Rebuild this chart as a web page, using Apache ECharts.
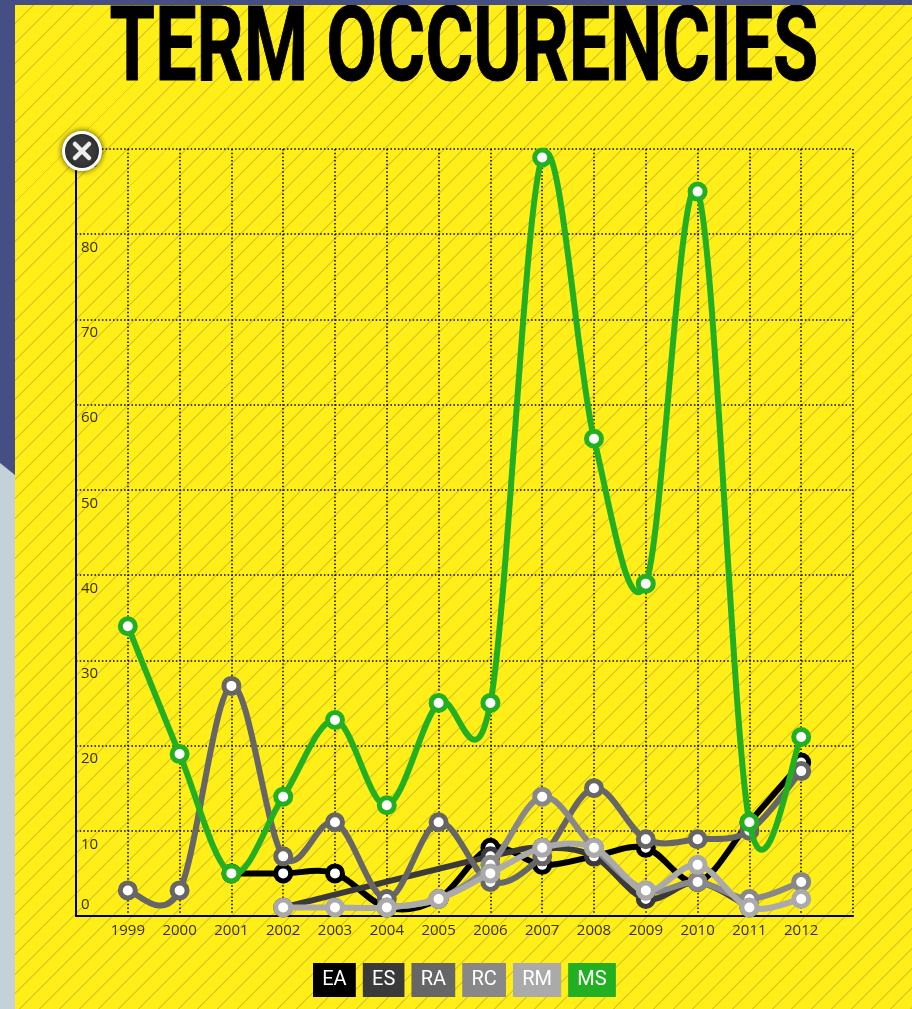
<!DOCTYPE html>
<html>
<head>
    <meta charset="utf-8">
    <title>Term occurencies</title>
    <script src="https://cdn.jsdelivr.net/npm/echarts@6/dist/echarts.min.js"></script>
    <style>
        html, body { margin: 0; padding: 0; background: #454f85; overflow: hidden; }
        #side { position: absolute; left: 0; top: 463px; width: 15px; height: 546px; background: #c5d1d9; clip-path: polygon(0 0, 100% 12px, 100% 100%, 0 100%); }
        #main { position: absolute; left: 15px; top: 5px; width: 897px; height: 1004px; overflow: hidden;
            background: repeating-linear-gradient(135deg, #ffee18 0, #ffee18 12.6px, #dfce1c 12.6px, #dfce1c 14px); }
        #chart { position: absolute; left: -15px; top: -5px; width: 912px; height: 1009px; }
    </style>
</head>
<body>
    <div id="side"></div>
    <div id="main"><div id="chart"></div></div>
    <script type="text/javascript">
        var years = [1999, 2000, 2001, 2002, 2003, 2004, 2005, 2006, 2007, 2008, 2009, 2010, 2011, 2012];
        var ea = [null, null, 5, 5, 5, 1, 2, 8, 6, 7, 8, 4, 11, 18];
        var es = [null, null, null, 1, null, null, null, 7, 8, 7, 2, 4, 1, null];
        var ra = [3, 3, 27, 7, 11, 2, 11, 4, 7, 15, 9, 9, 10, 17];
        var rc = [null, null, null, null, null, 1, 2, 6, 14, 8, 3, 4, 2, 4];
        var rm = [null, null, null, 1, 1, 1, 2, 5, 8, 8, 3, 6, 1, 2];
        var ms = [34, 19, 5, 14, 23, 13, 25, 25, 89, 56, 39, 85, 11, 21];

        var names = ['EA', 'ES', 'RA', 'RC', 'RM', 'MS'];
        var values = [ea, es, ra, rc, rm, ms];
        var colors = ['#000000', '#3a3a3a', '#666666', '#888888', '#aaaaaa', '#22b022'];

        var myChart = echarts.init(document.getElementById('chart'));

        // only the years that have a value, gaps are joined up
        var pair = function (arr) {
            var res = [];
            for (var i = 0; i < arr.length; i++) {
                if (arr[i] !== null) {
                    res.push([years[i], arr[i]]);
                }
            }
            return res;
        };

        // the line overshoots between points, which smooth:true clamps away,
        // so each segment is a catmull-rom bezier through api.coord
        var curveItem = function (points, color) {
            return function (params, api) {
                var i = params.dataIndex;
                if (i >= points.length - 1) {
                    return;
                }
                var p0 = api.coord(points[Math.max(i - 1, 0)]);
                var p1 = api.coord(points[i]);
                var p2 = api.coord(points[i + 1]);
                var p3 = api.coord(points[Math.min(i + 2, points.length - 1)]);
                return {
                    type: 'bezierCurve',
                    shape: {
                        x1: p1[0],
                        y1: p1[1],
                        cpx1: p1[0] + (p2[0] - p0[0]) / 6,
                        cpy1: p1[1] + (p2[1] - p0[1]) / 6,
                        cpx2: p2[0] - (p3[0] - p1[0]) / 6,
                        cpy2: p2[1] - (p3[1] - p1[1]) / 6,
                        x2: p2[0],
                        y2: p2[1]
                    },
                    style: { fill: 'none', stroke: color, lineWidth: 6, lineCap: 'round' }
                };
            };
        };

        var series = [];
        names.forEach(function (name, i) {
            var points = pair(values[i]);
            series.push({
                name: name,
                type: 'custom',
                data: points,
                z: 2 + i * 2,
                silent: true,
                clip: false,
                renderItem: curveItem(points, colors[i])
            });
            series.push({
                name: name,
                type: 'line',
                data: points,
                symbol: 'circle',
                symbolSize: 15,
                z: 3 + i * 2,
                lineStyle: { opacity: 0 },
                itemStyle: { color: '#ffffff', borderColor: colors[i], borderWidth: 5 }
            });
        });

        var option = {
            animation: false,
            legend: {
                top: 963,
                left: 308,
                padding: 0,
                itemWidth: 0,
                itemHeight: 0,
                itemGap: 2,
                icon: 'none',
                data: names.map(function (name, i) {
                    return {
                        name: name,
                        textStyle: {
                            color: '#fff',
                            fontFamily: 'Roboto',
                            fontSize: 20,
                            backgroundColor: colors[i],
                            padding: [7, 9.2, 7, 9.2]
                        }
                    };
                })
            },
            grid: { left: 76, right: 59, top: 149, bottom: 93 },
            xAxis: {
                type: 'value',
                min: 1998,
                max: 2013,
                interval: 1,
                axisLine: { show: true, onZero: false, lineStyle: { color: '#000', width: 2 } },
                axisTick: { show: false },
                splitLine: { show: true, lineStyle: { color: '#000', width: 1.5, type: [1.5, 2.2] } },
                axisLabel: {
                    color: '#3a3000',
                    fontFamily: 'Open Sans',
                    fontSize: 15,
                    margin: 7,
                    showMinLabel: false,
                    showMaxLabel: false,
                    formatter: function (v) { return String(v); }
                }
            },
            yAxis: {
                type: 'value',
                min: 0,
                max: 90,
                interval: 10,
                axisLine: { show: true, lineStyle: { color: '#000', width: 2 } },
                axisTick: { show: false },
                splitLine: { show: true, lineStyle: { color: '#000', width: 1.5, type: [1.5, 2.2] } },
                axisLabel: {
                    inside: true,
                    color: '#3a3000',
                    fontFamily: 'Open Sans',
                    fontSize: 15,
                    margin: 5,
                    padding: [6, 0, 4, 0],
                    verticalAlign: 'top',
                    verticalAlignMinLabel: 'bottom'
                }
            },
            graphic: [{
                type: 'text',
                x: 464,
                y: 54,
                scaleX: 0.714,
                z: 50,
                style: {
                    text: 'TERM OCCURENCIES',
                    fill: '#000',
                    stroke: '#000',
                    lineWidth: 1,
                    font: 'bold 103px "Roboto"',
                    textAlign: 'center',
                    textVerticalAlign: 'middle'
                }
            }, {
                type: 'group',
                left: 62,
                top: 131,
                children: [
                    { type: 'circle', z: 100, shape: { cx: 20, cy: 20, r: 18.5 }, style: { fill: '#3a3a3a', stroke: '#fff', lineWidth: 3, shadowBlur: 6, shadowColor: 'rgba(0,0,0,0.6)' } },
                    { type: 'line', z: 101, shape: { x1: 13, y1: 13, x2: 27, y2: 27 }, style: { stroke: '#eee', lineWidth: 4.5, lineCap: 'round' } },
                    { type: 'line', z: 101, shape: { x1: 27, y1: 13, x2: 13, y2: 27 }, style: { stroke: '#eee', lineWidth: 4.5, lineCap: 'round' } }
                ]
            }],
            series: series
        };

        myChart.setOption(option);
    </script>
</body>
</html>
